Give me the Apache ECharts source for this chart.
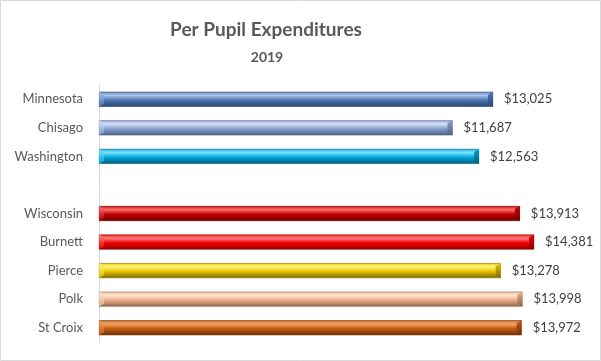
<!DOCTYPE html>
<html><head><meta charset="utf-8">
<script src="https://cdn.jsdelivr.net/npm/echarts@6/dist/echarts.min.js"></script>
<style>html,body{margin:0;padding:0;background:#fff}#c{width:601px;height:361px}</style>
</head><body><div id="c"></div>
<script>
var categories = ['Minnesota','Chisago','Washington','','Wisconsin','Burnett','Pierce','Polk','St Croix'];
var values = [13025, 11687, 12563, null, 13913, 14381, 13278, 13998, 13972];

// style palette: [top, highlight, base, dark]
var palette = [
  ['#6f93c8','#a9c2e6','#4f77b3','#2b456f'],
  ['#9aafdd','#d3def5','#8aa0d0','#4e5f86'],
  ['#12b8e8','#7fe3ff','#00a8dc','#005a78'],
  ['#d01010','#ff7070','#c00000','#6e0000'],
  ['#ff1a1a','#ff8080','#f00000','#900000'],
  ['#f5d000','#fff27a','#e8c400','#7d6a00'],
  ['#f4c09a','#ffe6d2','#eeb088','#8c644a'],
  ['#d06a20','#f2a468','#c55a11','#6e3209']
];

var chart = echarts.init(document.getElementById('c'));
var ci = 0;
var styleIdx = [];
var data = values.map(function (v, i) {
  if (v === null) { styleIdx.push(-1); return { value: null }; }
  var p = palette[ci];
  styleIdx.push(ci++);
  return {
    value: v,
    itemStyle: {
      color: new echarts.graphic.LinearGradient(0, 0, 0, 1, [
        { offset: 0, color: p[0] },
        { offset: 0.25, color: p[1] },
        { offset: 0.55, color: p[2] },
        { offset: 1, color: p[3] }
      ]),
      borderColor: p[3],
      borderWidth: 0.6
    }
  };
});

var BH = 15, BV = 5;
function renderBevel(params, api) {
  var idx = params.dataIndex;
  var v = api.value(0);
  if (v == null || isNaN(v)) return null;
  var p = palette[styleIdx[idx]];
  var a = api.coord([0, idx]);
  var b = api.coord([v, idx]);
  var y0 = a[1] - BH / 2, y1 = a[1] + BH / 2;
  var x0 = a[0], x1 = b[0];
  return {
    type: 'group',
    children: [
      { type: 'polygon', shape: { points: [[x0, y0], [x0 + BV, y0 + 3], [x0 + BV, y1 - 3], [x0, y1]] },
        style: { fill: new echarts.graphic.LinearGradient(0, 0, 0, 1, [
          { offset: 0, color: p[1] }, { offset: 1, color: p[2] }]), opacity: 0.85 } },
      { type: 'polygon', shape: { points: [[x1 - BV, y0 + 3], [x1, y0], [x1, y1], [x1 - BV, y1 - 3]] },
        style: { fill: new echarts.graphic.LinearGradient(0, 0, 0, 1, [
          { offset: 0, color: p[2] }, { offset: 1, color: p[3] }]) } }
    ]
  };
}

chart.setOption({
  backgroundColor: '#fff',
  title: [
    { text: 'Per Pupil Expenditures', left: 261, top: 15, textAlign: 'center',
      textStyle: { fontFamily: 'Lato', fontWeight: 'bold', fontSize: 19, color: '#595959' } },
    { text: '2019', left: 262, top: 45, textAlign: 'center',
      textStyle: { fontFamily: 'Lato', fontWeight: 'bold', fontSize: 14, color: '#595959' } }
  ],
  grid: { left: 99, top: 85, width: 484, height: 257 },
  xAxis: { type: 'value', min: 0, max: 16000, show: false },
  yAxis: {
    type: 'category', data: categories, inverse: true,
    axisLine: { show: true, lineStyle: { color: '#d9d9d9', width: 1 } },
    axisTick: { show: false },
    axisLabel: { margin: 16, color: '#595959', fontFamily: 'Lato', fontSize: 13 }
  },
  series: [{
    type: 'bar', data: data, barWidth: BH,
    label: {
      show: true, position: 'right', distance: 11, color: '#404040',
      fontFamily: 'Lato', fontSize: 13,
      formatter: function (p) { return '$' + p.value.toLocaleString('en-US'); }
    }
  }, {
    type: 'custom', data: values, renderItem: renderBevel, silent: true, z: 3
  }],
  graphic: [{ type: 'rect', shape: { x: 0.5, y: 0.5, width: 600, height: 360 },
    style: { fill: 'none', stroke: '#d9d9d9', lineWidth: 1 }, silent: true }]
});
</script></body></html>
